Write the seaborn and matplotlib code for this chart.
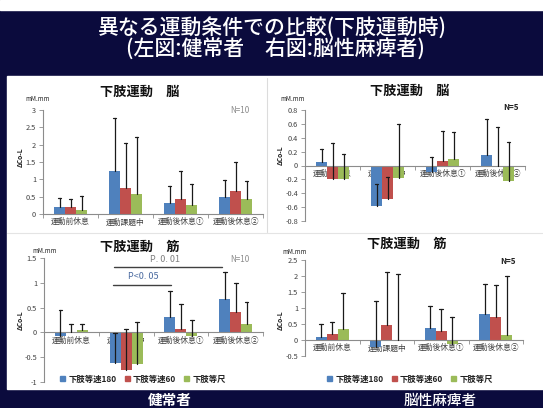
import numpy as np
import pandas as pd
import matplotlib
matplotlib.use("Agg")
import matplotlib.pyplot as plt
from matplotlib.patches import Rectangle
from matplotlib.lines import Line2D
from matplotlib.ticker import FuncFormatter
import seaborn as sns

# ---- data ---------------------------------------------------------------
categories = ["運動前休息", "運動課題中", "運動後休息①", "運動後休息②"]
series = ["下肢等速180", "下肢等速60", "下肢等尺"]
colors = ["#4F81BD", "#C0504D", "#9BBB59"]

# healthy subjects, brain (N=10): rows follow `series`
healthy_brain_mean = [[0.19, 1.24, 0.31, 0.50],
                      [0.19, 0.76, 0.42, 0.65],
                      [0.11, 0.58, 0.25, 0.43]]
healthy_brain_sd = [[0.28, 1.54, 0.51, 0.47],
                    [0.24, 1.29, 0.83, 0.84],
                    [0.40, 1.63, 0.62, 0.53]]

# cerebral palsy, brain (N=5)
cp_brain_mean = [[0.05, -0.58, -0.10, 0.15],
                 [-0.19, -0.48, 0.07, 0.00],
                 [-0.19, -0.18, 0.09, -0.22]]
cp_brain_sd = [[0.19, 0.32, 0.22, 0.52],
               [0.51, 0.32, 0.43, 0.55],
               [0.36, 0.78, 0.39, 0.56]]

# healthy subjects, muscle (N=10)
healthy_muscle_mean = [[-0.08, -0.62, 0.31, 0.68],
                       [0.00, -0.75, 0.06, 0.41],
                       [0.04, -0.63, -0.08, 0.16]]
healthy_muscle_sd = [[0.53, 0.60, 0.52, 0.54],
                     [0.16, 0.81, 0.52, 0.58],
                     [0.12, 0.84, 0.34, 0.46]]

# cerebral palsy, muscle (N=5)
cp_muscle_mean = [[0.10, -0.23, 0.39, 0.82],
                  [0.18, 0.46, 0.27, 0.71],
                  [0.33, 0.00, -0.13, 0.15]]
cp_muscle_sd = [[0.41, 1.46, 0.67, 0.93],
                [0.38, 1.68, 0.69, 1.00],
                [1.13, 2.07, 0.86, 1.84]]

# ---- style ---------------------------------------------------------------
sns.set_theme(style="white")
plt.rcParams["font.family"] = ["Noto Sans CJK JP", "DejaVu Sans"]

W, H = 543, 408
NAVY = "#0b0b3d"
AXIS_GRAY = "#8c8c8c"
TEXT_GRAY = "#404040"

fig = plt.figure(figsize=(W / 100, H / 100), dpi=100, facecolor=NAVY)


def fx(px):
    return px / W


def fy(py):
    return 1 - py / H


# slide background: white strip on top, white content area
fig.patches.append(Rectangle((0, fy(10)), 1, 10 / H, transform=fig.transFigure,
                             color="white", zorder=-5))
fig.patches.append(Rectangle((fx(7), fy(389)), fx(536), (389 - 76) / H,
                             transform=fig.transFigure, color="white", zorder=-5))
# faint panel frames
fig.add_artist(Line2D([fx(267), fx(267)], [fy(78), fy(232)], transform=fig.transFigure,
                      color="#dcdcdc", lw=0.8, zorder=-4))
fig.add_artist(Line2D([fx(7), fx(543)], [fy(233), fy(233)], transform=fig.transFigure,
                      color="#e4e4e4", lw=0.8, zorder=-4))

# headline
fig.text(fx(272), fy(28), "異なる運動条件での比較(下肢運動時)", color="white",
         fontsize=15, fontweight="medium", ha="center", va="center")
fig.text(fx(275), fy(50), "(左図:健常者　右図:脳性麻痺者)", color="white",
         fontsize=15, fontweight="medium", ha="center", va="center")
fig.text(fx(170), fy(400), "健常者", color="white", fontsize=10.5,
         fontweight="bold", ha="center", va="center")
fig.text(fx(440), fy(401), "脳性麻痺者", color="white", fontsize=10.5,
         fontweight="medium", ha="center", va="center")

fmt = FuncFormatter(lambda v, p: f"{round(v, 6) + 0:g}")


def panel(rect, means, sds, ylim, step, title, title_xy, n_text, n_xy, n_bold,
          unit_xy, ylab_xy):
    l, t, r, b = rect
    ax = fig.add_axes([fx(l), fy(b), fx(r - l), (b - t) / H])
    ax.set_facecolor("none")
    df = pd.DataFrame({
        "cat": [c for s in series for c in categories],
        "series": [s for s in series for c in categories],
        "val": [v for row in means for v in row],
    })
    sns.barplot(data=df, x="cat", y="val", hue="series", order=categories,
                hue_order=series, palette=colors, width=0.6, errorbar=None,
                saturation=1, legend=False, ax=ax, linewidth=0)
    # one-sided (plus) error bars
    for i, cont in enumerate(ax.containers):
        for j, patch in enumerate(cont.patches):
            xc = patch.get_x() + patch.get_width() / 2
            y0 = means[i][j]
            y1 = y0 + sds[i][j]
            ax.plot([xc, xc], [y0, y1], color="#1a1a1a", lw=0.9, zorder=3)
            ax.plot([xc - 0.035, xc + 0.035], [y1, y1], color="#1a1a1a", lw=0.9,
                    zorder=3)
    ax.set_xlim(-0.5, 3.5)
    ax.set_ylim(*ylim)
    ax.set_xlabel("")
    ax.set_ylabel("")
    for s in ("top", "right"):
        ax.spines[s].set_visible(False)
    ax.spines["left"].set_color(AXIS_GRAY)
    ax.spines["left"].set_linewidth(0.8)
    ax.spines["bottom"].set_color(AXIS_GRAY)
    ax.spines["bottom"].set_linewidth(0.8)
    ax.spines["bottom"].set_position(("data", 0))
    ticks = np.round(np.arange(ylim[0], ylim[1] + step / 2, step), 6)
    ax.set_yticks(ticks)
    ax.yaxis.set_major_formatter(fmt)
    ax.tick_params(axis="y", direction="out", length=3, width=0.6, color=AXIS_GRAY,
                   labelsize=5.3, labelcolor=TEXT_GRAY, pad=2, left=True)
    ax.set_xticks([-0.5, 0.5, 1.5, 2.5, 3.5])
    ax.set_xticklabels([])
    ax.set_xticks(range(4), minor=True)
    ax.set_xticklabels(categories, minor=True)
    ax.tick_params(axis="x", which="major", direction="out", length=3, width=0.6,
                   color=AXIS_GRAY, bottom=True)
    ax.tick_params(axis="x", which="minor", length=0, labelsize=5.6,
                   labelcolor=TEXT_GRAY, pad=3, bottom=True)
    fig.text(fx(title_xy[0]), fy(title_xy[1]), title, fontsize=9.5,
             fontweight="bold", ha="center", va="center", color="#111111")
    fig.text(fx(n_xy[0]), fy(n_xy[1]), n_text, fontsize=5.8,
             fontweight="bold" if n_bold else "normal",
             color="#222222" if n_bold else "#8c8c8c", ha="center", va="center")
    fig.text(fx(unit_xy[0]), fy(unit_xy[1]), "mM.mm", fontsize=4.5,
             color="#222222", ha="center", va="center")
    fig.text(fx(ylab_xy[0]), fy(ylab_xy[1]), "ΔCo-L", fontsize=4.8,
             fontweight="bold", rotation=90, color="#222222",
             ha="center", va="center")
    return ax


ax1 = panel((43, 110, 263, 214), healthy_brain_mean, healthy_brain_sd, (0, 3), 0.5,
            "下肢運動　脳", (140, 92), "N=10", (240, 111), False, (38, 99), (20, 157))
ax2 = panel((305, 110, 525, 221), cp_brain_mean, cp_brain_sd, (-0.8, 0.8), 0.2,
            "下肢運動　脳", (410, 91), "N=5", (511, 108), True, (293, 99), (280, 155))
ax3 = panel((44, 258, 263, 382), healthy_muscle_mean, healthy_muscle_sd, (-1, 1.5), 0.5,
            "下肢運動　筋", (140, 247), "N=10", (240, 260), False, (45, 251), (20, 320))
ax4 = panel((305, 260, 523, 356), cp_muscle_mean, cp_muscle_sd, (-0.5, 2.5), 0.5,
            "下肢運動　筋", (407, 244), "N=5", (508, 262), True, (295, 252), (280, 320))

# significance brackets
ax3.plot([0.78, 2.75], [1.32, 1.32], color="#404040", lw=1.0)
ax3.text(1.71, 1.47, "P. 0. 01", color="#7f7f7f", fontsize=6.5, ha="center", va="center")
ax3.plot([0.76, 1.82], [0.955, 0.955], color="#404040", lw=1.0)
ax3.text(1.31, 1.13, "P<0. 05", color="#4a6aa0", fontsize=6.5, ha="center", va="center")

# legends under the muscle panels
handles = [Rectangle((0, 0), 1, 1, color=c) for c in colors]
for cx in (143, 410):
    fig.legend(handles, series, loc="center", bbox_to_anchor=(fx(cx), fy(379)),
               ncol=3, frameon=False, prop={"size": 6, "weight": "bold"},
               handlelength=0.6, handleheight=0.6,
               handletextpad=0.35, columnspacing=1.0, labelcolor="#222222")

fig.savefig("out.png", dpi=100, facecolor=NAVY)
